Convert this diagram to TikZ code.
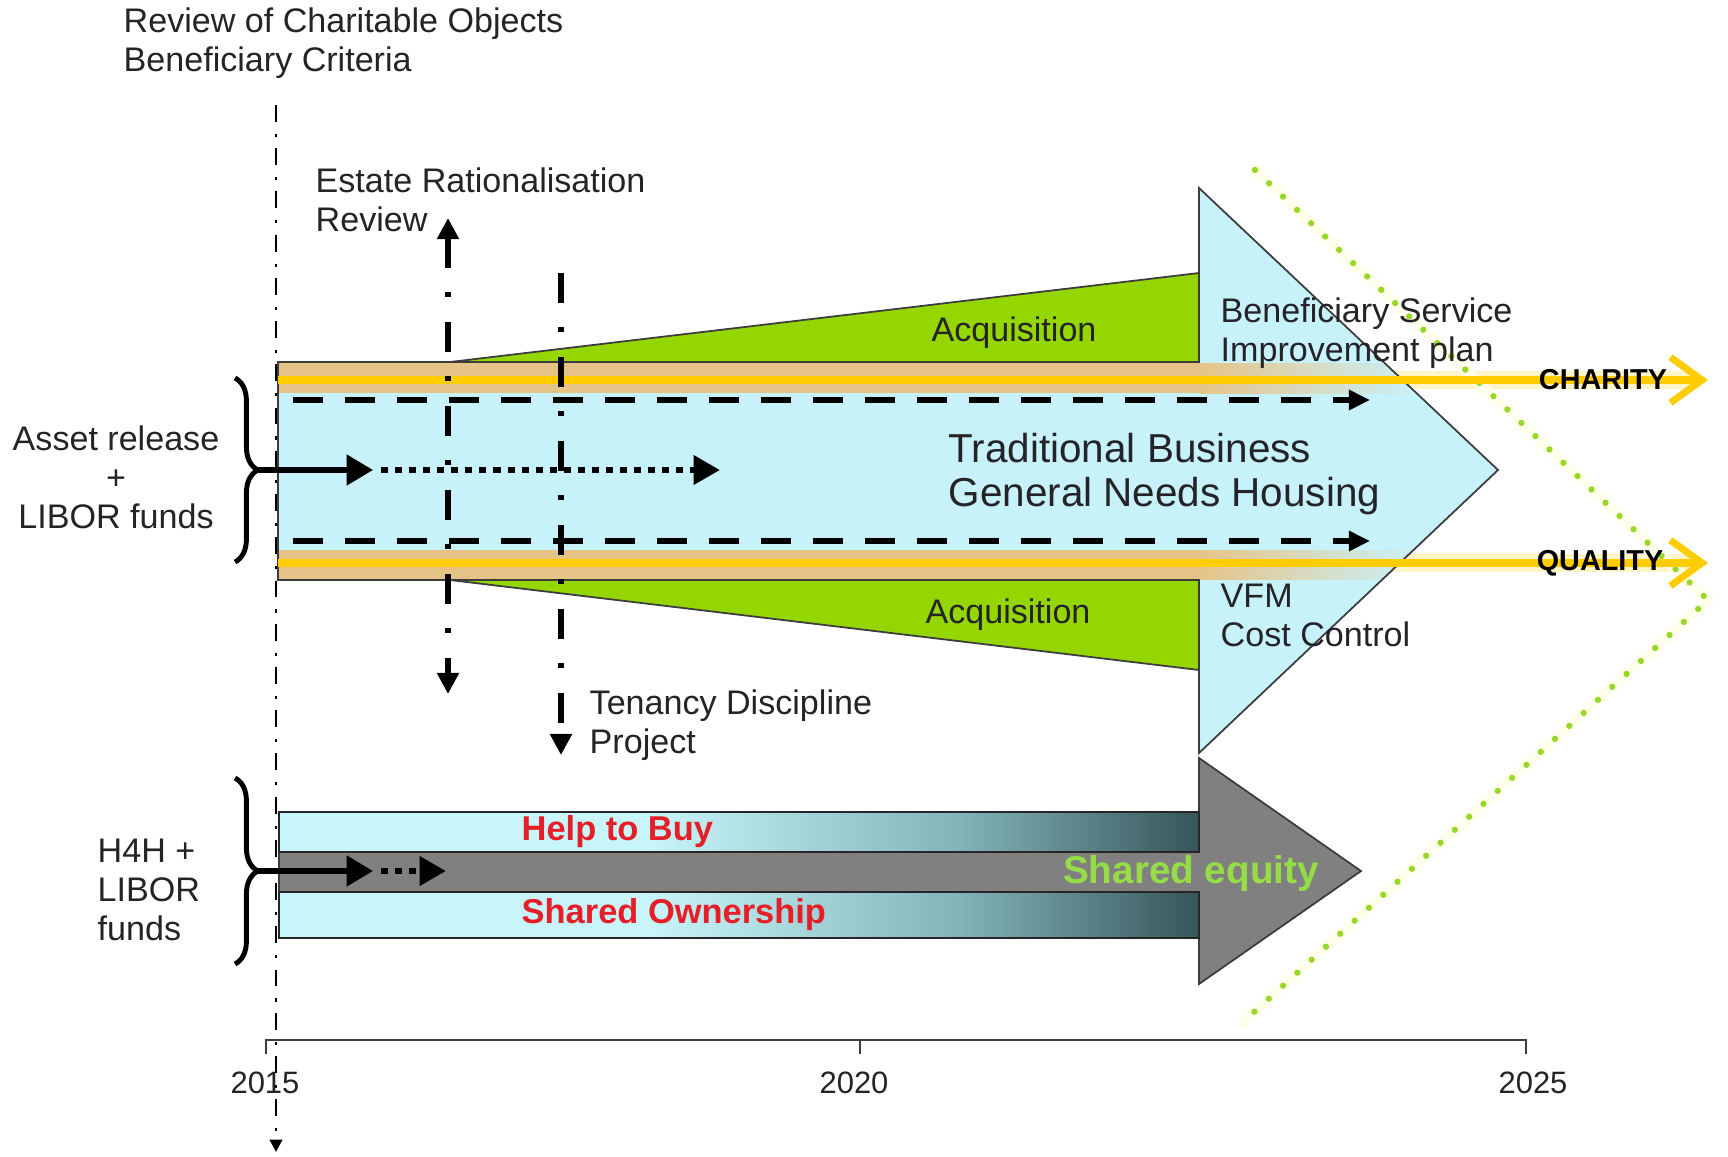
\documentclass[tikz,border=0pt]{standalone}
\usepackage{fontspec}
\setmainfont{Liberation Sans}
\usetikzlibrary{arrows.meta,decorations.pathreplacing}

\definecolor{shaftblue}{RGB}{200,242,250}
\definecolor{acqgreen}{RGB}{150,214,0}
\definecolor{tanband}{RGB}{230,196,136}
\definecolor{glowyellow}{RGB}{255,204,0}
\definecolor{edgegray}{RGB}{60,60,60}
\definecolor{arrowgray}{RGB}{128,128,128}
\definecolor{barlight}{RGB}{200,245,250}
\definecolor{barmid}{RGB}{130,180,185}
\definecolor{bardark}{RGB}{55,85,90}
\definecolor{buyred}{RGB}{230,30,40}
\definecolor{eqgreen}{RGB}{150,220,70}
\definecolor{dotgreen}{RGB}{150,215,40}
\definecolor{txtgray}{RGB}{35,35,40}

\pgfdeclarehorizontalshading{barshade}{100bp}{color(0bp)=(barlight); color(25bp)=(barlight); color(45bp)=(barlight); color(62bp)=(barmid); color(75bp)=(bardark); color(100bp)=(bardark)}

\tikzset{
  lbl/.style={font=\fontsize{9.7}{11.1}\selectfont, text=txtgray, inner sep=0pt, align=left},
  biglbl/.style={font=\fontsize{11.5}{12.5}\selectfont, text=txtgray, inner sep=0pt, align=left},
  capslbl/.style={font=\fontsize{8.2}{9}\selectfont\bfseries, text=black, inner sep=0pt},
  redlbl/.style={font=\fontsize{9.8}{11}\selectfont\bfseries, text=buyred, inner sep=0pt},
  eqlbl/.style={font=\fontsize{11}{12}\selectfont\bfseries, text=eqgreen, inner sep=0pt},
  yearlbl/.style={font=\fontsize{8.8}{10}\selectfont, text=txtgray, inner sep=0pt},
  outline/.style={draw=edgegray, line width=0.5pt},
  dasharrow/.style={black, line width=1.45pt, dash pattern=on 8.5pt off 6.3pt, -{Triangle[length=6pt,width=5.5pt]}},
  dotarrow/.style={black, line width=1.8pt, dash pattern=on 2pt off 2pt, -{Triangle[length=7.5pt,width=8pt]}},
  solidarrow/.style={black, line width=1.5pt, -{Triangle[length=7.5pt,width=8.5pt]}},
  reviewline/.style={black, line width=1.45pt, dash pattern=on 8.5pt off 7pt on 1.4pt off 7pt},
  yearline/.style={black, line width=0.85pt, dash pattern=on 4.8pt off 3.4pt on 0.9pt off 3.2pt},
  fundbrace/.style={black, line width=1.4pt, decorate, decoration={brace, amplitude=6.5pt}},
  glowline/.style={glowyellow, line width=2pt, -{Straight Barb[length=9pt,width=13pt]}},
  halo/.style={glowyellow!22, line width=5pt, line cap=round},
  greendots/.style={dotgreen, line width=1.8pt, line cap=round, dash pattern=on 0pt off 5.5pt},
  axisline/.style={edgegray, line width=0.6pt}
}

\begin{document}
\begin{tikzpicture}[x=0.1mm, y=-0.1mm]
\useasboundingbox (0,0) rectangle (1728,1156);

% glow of the two lines beyond the arrow
\draw[halo] (1199,380) -- (1690,380);
\draw[halo] (1199,563) -- (1690,563);

% green end markers
\coordinate (gTop) at (1255,170);
\coordinate (gApex) at (1708,600);
\coordinate (gBot) at (1243,1022);
\draw[yellow!8, line width=3pt, line cap=round] (gTop) -- (gApex) -- (gBot);
\draw[greendots] (gTop) -- (gApex) -- (gBot);

% main arrow
\fill[shaftblue] (278,362) -- (1199,362) -- (1199,188) -- (1498,470) -- (1199,753) -- (1199,580) -- (278,580) -- cycle;
\fill[tanband] (278,363) rectangle (1199,393);
\fill[tanband] (278,550) rectangle (1199,579);
\begin{scope}
  \clip (1199,188) -- (1498,470) -- (1199,753) -- cycle;
  \shade[left color=tanband, right color=shaftblue] (1199,363) rectangle (1420,393);
  \shade[left color=tanband, right color=shaftblue] (1199,550) rectangle (1420,579);
\end{scope}
\draw[outline] (278,362) -- (1199,362) -- (1199,188) -- (1498,470) -- (1199,753) -- (1199,580) -- (278,580) -- cycle;

% acquisition wedges
\path[fill=acqgreen, outline] (450,362) -- (1199,273) -- (1199,362) -- cycle;
\path[fill=acqgreen, outline] (450,580) -- (1199,670) -- (1199,580) -- cycle;

% charity / quality lines
\draw[glowline] (278,380) -- (1708,380);
\draw[glowline] (278,563) -- (1708,563);

% dashed arrows
\coordinate (dT0) at (293,400);
\coordinate (dT1) at (1370,400);
\coordinate (dB0) at (293,541);
\coordinate (dB1) at (1370,541);
\draw[dasharrow] (dT0) -- (dT1);
\draw[dasharrow] (dB0) -- (dB1);

% lower arrow
\path[fill=arrowgray, outline] (279,852) -- (1199,852) -- (1199,758) -- (1361,871) -- (1199,984) -- (1199,892) -- (279,892) -- cycle;
\path[shading=barshade, draw=black!85, line width=0.6pt] (279,812) rectangle (1199,852);
\path[shading=barshade, draw=black!85, line width=0.6pt] (279,892) rectangle (1199,938);

% braces and fund arrows
\draw[fundbrace] (235,378) -- (235,562);
\draw[fundbrace] (235,778) -- (235,964);
\coordinate (assetTip) at (258,470);
\coordinate (assetMid) at (373,470);
\coordinate (assetDot) at (381,470);
\coordinate (assetEnd) at (720,470);
\draw[solidarrow] (assetTip) -- (assetMid);
\draw[dotarrow] (assetDot) -- (assetEnd);
\coordinate (h4hTip) at (258,871);
\coordinate (h4hMid) at (373,871);
\coordinate (h4hDot) at (381,871);
\coordinate (h4hEnd) at (446,871);
\draw[solidarrow] (h4hTip) -- (h4hMid);
\draw[dotarrow] (h4hDot) -- (h4hEnd);

% review lines
\coordinate (estTop) at (448,218);
\coordinate (estBot) at (448,694);
\coordinate (tenTop) at (561,273);
\coordinate (tenBot) at (561,755);
\coordinate (yrTop) at (276,105);
\coordinate (yrBot) at (276,1152);
\draw[reviewline, {Triangle[length=6pt,width=6pt]}-{Triangle[length=6pt,width=6pt]}] (estTop) -- (estBot);
\draw[reviewline, -{Triangle[length=6pt,width=6pt]}] (tenTop) -- (tenBot);
\draw[yearline, -{Triangle[length=3.5pt,width=3.5pt]}] (yrTop) -- (yrBot);

% time axis
\draw[axisline] (266,1054) -- (266,1040) -- (1526,1040) -- (1526,1054);
\draw[axisline] (860,1040) -- (860,1054);
\foreach \xx/\yr in {265/2015, 854/2020, 1533/2025}
  \node[yearlbl] (y\yr) at (\xx,1083) {\yr};

% labels
\node[lbl, anchor=west] (review) at (123,43.5) {Review of Charitable Objects\\Beneficiary Criteria};
\node[lbl, anchor=west] (estate) at (315,199.5) {Estate Rationalisation\\Review};
\node[lbl, anchor=west] (tenancy) at (589,725) {Tenancy Discipline\\Project};
\node[lbl, align=center] (asset) at (116,477) {Asset release\\+\\LIBOR funds};
\node[lbl, anchor=west] (h4h) at (97,890) {H4H +\\LIBOR\\funds};
\node[lbl] (acqTop) at (1014,333) {Acquisition};
\node[lbl] (acqBot) at (1008,615) {Acquisition};
\node[biglbl, anchor=west] (trad) at (948,474) {Traditional Business\\General Needs Housing};
\node[lbl, anchor=west] (benef) at (1220,333) {Beneficiary Service\\Improvement plan};
\node[lbl, anchor=west] (vfm) at (1220,615) {VFM\\Cost Control};
\node[capslbl] (charity) at (1603,380) {CHARITY};
\node[capslbl] (quality) at (1600,563) {QUALITY};
\node[redlbl, anchor=west] (buy) at (521,832) {Help to Buy};
\node[redlbl, anchor=west] (ownership) at (521,915) {Shared Ownership};
\node[eqlbl] (equity) at (1191,873) {Shared equity};
\end{tikzpicture}
\end{document}
